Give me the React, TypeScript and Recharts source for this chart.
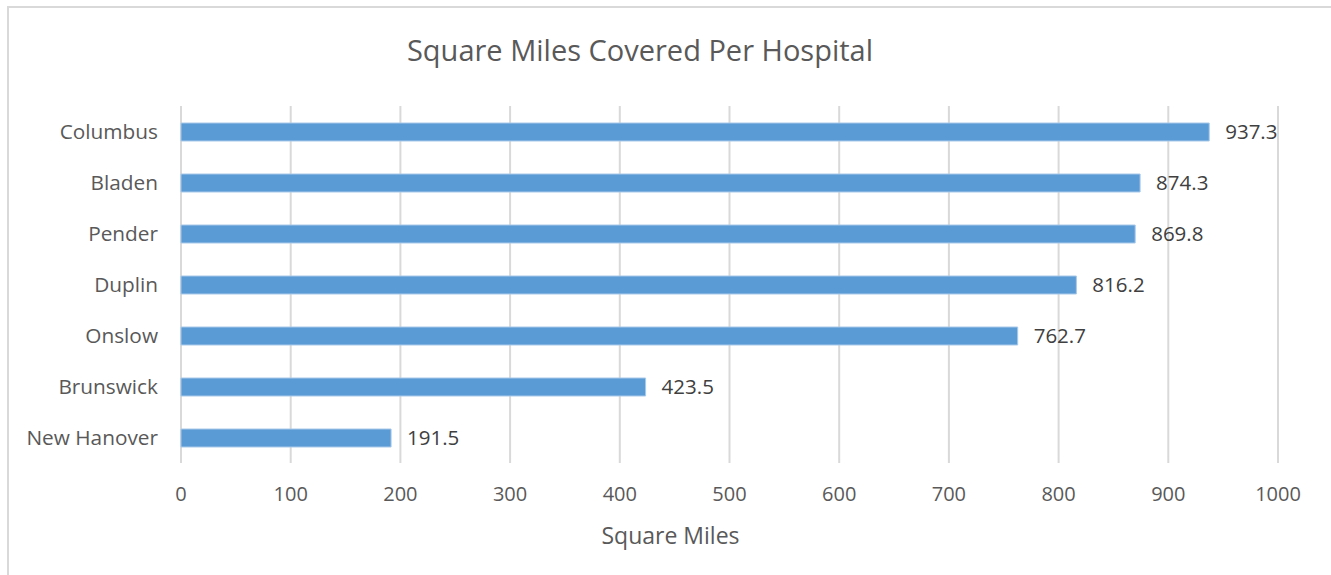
import { Bar, BarChart, CartesianGrid, LabelList, XAxis, YAxis, Label } from "recharts";

const counties = ["Columbus", "Bladen", "Pender", "Duplin", "Onslow", "Brunswick", "New Hanover"];
const squareMiles = [937.3, 874.3, 869.8, 816.2, 762.7, 423.5, 191.5];
const xTicks = [0, 100, 200, 300, 400, 500, 600, 700, 800, 900, 1000];

const data = counties.map((county, i) => ({ county, miles: squareMiles[i] }));

const FONT = "'Open Sans', sans-serif";

export default function App() {
  return (
    <div style={{ position: "absolute", left: 0, top: 0, width: 1331, height: 575, fontFamily: FONT }}>
      {/* chart frame, only top and left edges fall inside the picture */}
      <div
        style={{
          position: "absolute",
          left: 7,
          top: 6,
          width: 1340,
          height: 600,
          borderTop: "2px solid #d9d9d9",
          borderLeft: "2px solid #d9d9d9",
        }}
      />
      <div
        style={{
          position: "absolute",
          left: 0,
          width: 1280,
          top: 29,
          textAlign: "center",
          fontSize: 29,
          color: "#595959",
          lineHeight: "42px",
        }}
      >
        Square Miles Covered Per Hospital
      </div>
      <div style={{ position: "absolute", left: 0, top: 0 }}>
        <BarChart
          width={1331}
          height={575}
          data={data}
          layout="vertical"
          margin={{ top: 106, right: 53, bottom: 0, left: 0 }}
        >
          <CartesianGrid horizontal={false} stroke="#d9d9d9" strokeWidth={2} />
          <XAxis
            type="number"
            domain={[0, 1000]}
            ticks={xTicks}
            interval={0}
            axisLine={false}
            tickLine={false}
            tickSize={0}
            tickMargin={24}
            height={112}
            tick={{ fill: "#595959", fontSize: 20, fontFamily: FONT }}
          >
            <Label
              value="Square Miles"
              position="insideBottom"
              offset={31}
              dx={-59}
              style={{ fill: "#595959", fontSize: 23, fontFamily: FONT }}
            />
          </XAxis>
          <YAxis
            type="category"
            dataKey="county"
            width={181}
            axisLine={false}
            tickLine={false}
            tickSize={0}
            tickMargin={23}
            interval={0}
            tick={{ fill: "#595959", fontSize: 20.8, fontFamily: FONT }}
          />
          <Bar
            dataKey="miles"
            fill="#5b9bd5"
            stroke="#a8c9ea"
            strokeWidth={1}
            barSize={18}
            isAnimationActive={false}
          >
            <LabelList
              dataKey="miles"
              position="right"
              offset={16}
              formatter={(v: any) => Number(v).toFixed(1)}
              style={{ fill: "#404040", fontSize: 20.5, fontFamily: FONT }}
            />
          </Bar>
        </BarChart>
      </div>
    </div>
  );
}
